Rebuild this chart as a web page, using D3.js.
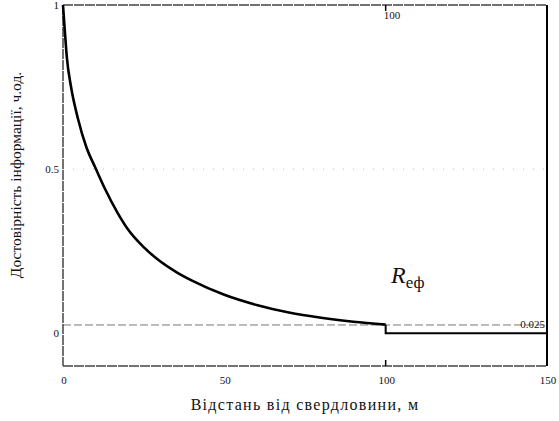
<!DOCTYPE html>
<html>
<head>
<meta charset="utf-8">
<script src="https://cdnjs.cloudflare.com/ajax/libs/d3/7.8.5/d3.min.js"></script>
<style>
  body { margin: 0; background: #fff; }
  text { font-family: "Liberation Serif", "Times New Roman", serif; fill: #111; }
</style>
</head>
<body>
<div id="chart"></div>
<script>
// distance from the well, m
var distance = [0, 0.5, 1.2, 2.5, 4.6, 7.3, 10, 13, 17, 20, 25, 30, 35, 40, 50, 60, 70, 80, 90, 100];
// effective reliability R_eф
var reliability = [1, 0.93, 0.84, 0.75, 0.655, 0.565, 0.505, 0.44, 0.365, 0.318, 0.262, 0.22, 0.187, 0.16, 0.117, 0.086, 0.063, 0.047, 0.035, 0.026];
// after the 100 m marker the curve steps down
var tailDistance = [100, 100, 150];
var tailValue = [0.026, 0, 0];

var xTicks = [0, 50, 100, 150];
var yTicks = [0, 0.5, 1];
var markerX = 100;
var markerY = 0.025;
var gridY = 0.5;

var width = 559, height = 421;
var svg = d3.select("#chart").append("svg").attr("width", width).attr("height", height);

var x = d3.scaleLinear().domain([0, 150]).range([63, 547]);
var y = d3.scaleLinear().domain([-0.1, 1]).range([366, 5]);

// faint dotted line at 0.5
svg.append("line")
  .attr("x1", x(0)).attr("x2", x(150))
  .attr("y1", y(gridY)).attr("y2", y(gridY))
  .attr("stroke", "#bbb").attr("stroke-width", 1)
  .attr("stroke-dasharray", "1,9");

// marker line at 0.025
svg.append("line")
  .attr("x1", x(0)).attr("x2", x(150))
  .attr("y1", y(markerY)).attr("y2", y(markerY))
  .attr("stroke", "#777").attr("stroke-width", 1)
  .attr("stroke-dasharray", "8,3");
svg.append("text")
  .attr("x", x(150) - 2).attr("y", y(markerY) + 3)
  .attr("text-anchor", "end").attr("font-size", 11)
  .text("0.025");

// frame: left, top and bottom greyish, right black
svg.append("line").attr("x1", x(0)).attr("x2", x(0)).attr("y1", y(1)).attr("y2", y(-0.1))
  .attr("stroke", "#444").attr("stroke-width", 1.5).attr("stroke-dasharray", "10,1");
svg.append("line").attr("x1", x(0)).attr("x2", x(150)).attr("y1", y(1)).attr("y2", y(1))
  .attr("stroke", "#444").attr("stroke-width", 1.5).attr("stroke-dasharray", "10,1");
svg.append("line").attr("x1", x(0)).attr("x2", x(150)).attr("y1", y(-0.1)).attr("y2", y(-0.1))
  .attr("stroke", "#444").attr("stroke-width", 1.5).attr("stroke-dasharray", "10,1");
svg.append("line").attr("x1", x(150)).attr("x2", x(150)).attr("y1", y(1)).attr("y2", y(-0.1))
  .attr("stroke", "#000").attr("stroke-width", 2);

// marker at x = 100: ticks on top and bottom, value on top
svg.append("line").attr("x1", x(markerX)).attr("x2", x(markerX)).attr("y1", y(1)).attr("y2", y(1) + 6)
  .attr("stroke", "#000").attr("stroke-width", 1.5);
svg.append("line").attr("x1", x(markerX)).attr("x2", x(markerX)).attr("y1", y(-0.1)).attr("y2", y(-0.1) - 6)
  .attr("stroke", "#000").attr("stroke-width", 1.5);
svg.append("text")
  .attr("x", x(markerX) - 2).attr("y", y(1) + 14)
  .attr("font-size", 11)
  .text(markerX);

// axes tick labels
svg.selectAll(".xlab").data(xTicks).enter().append("text")
  .attr("x", function(d){ return x(d) + 1; })
  .attr("y", 384)
  .attr("text-anchor", "middle").attr("font-size", 11)
  .text(function(d){ return d; });

svg.selectAll(".ylab").data(yTicks).enter().append("text")
  .attr("x", x(0) - 4)
  .attr("y", function(d){ return y(d) + 4; })
  .attr("text-anchor", "end").attr("font-size", 11)
  .text(function(d){ return d; });

// the curve
var line = d3.line()
  .x(function(d){ return x(d[0]); })
  .y(function(d){ return y(d[1]); })
  .curve(d3.curveMonotoneX);

svg.append("path")
  .datum(d3.zip(distance, reliability))
  .attr("d", line)
  .attr("fill", "none").attr("stroke", "#000").attr("stroke-width", 2.6);

svg.append("path")
  .datum(d3.zip(tailDistance, tailValue))
  .attr("d", d3.line().x(function(d){ return x(d[0]); }).y(function(d){ return y(d[1]); }))
  .attr("fill", "none").attr("stroke", "#000").attr("stroke-width", 2);

// curve label
var lab = svg.append("text").attr("x", 391).attr("y", 283);
lab.append("tspan").attr("font-size", 24).attr("font-style", "italic").text("R");
lab.append("tspan").attr("font-size", 17).attr("dy", 5).text("еф");

// axis titles
svg.append("text")
  .attr("x", 305).attr("y", 410)
  .attr("text-anchor", "middle").attr("font-size", 16)
  .attr("letter-spacing", 1.3)
  .text("Відстань від свердловини, м");

svg.append("text")
  .attr("transform", "translate(21,175) rotate(-90)")
  .attr("text-anchor", "middle").attr("font-size", 15.5)
  .text("Достовірність інформації, ч.од.");
</script>
</body>
</html>
